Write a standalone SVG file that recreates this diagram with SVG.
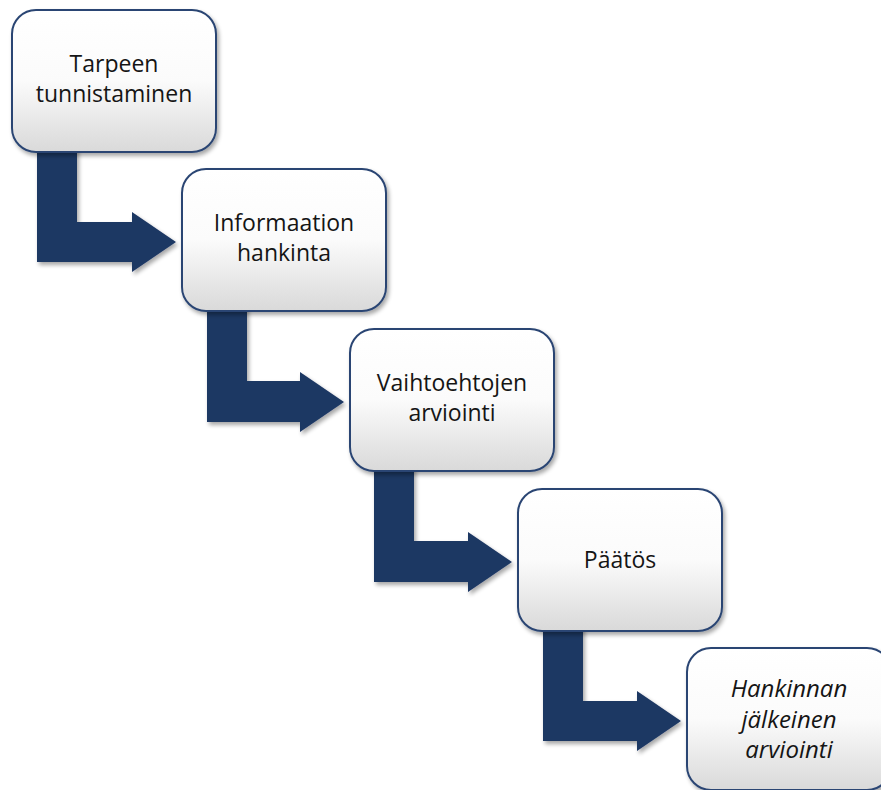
<svg xmlns="http://www.w3.org/2000/svg" width="881" height="790" viewBox="0 0 881 790">
  <defs>
    <linearGradient id="boxGrad" x1="0" y1="0" x2="0" y2="1">
      <stop offset="0" stop-color="#ffffff"/>
      <stop offset="0.5" stop-color="#fbfbfb"/>
      <stop offset="1" stop-color="#d9d9d9"/>
    </linearGradient>
    <filter id="shadow" x="-10%" y="-10%" width="130%" height="130%">
      <feGaussianBlur in="SourceAlpha" stdDeviation="2"/>
      <feOffset dx="2" dy="3" result="b"/>
      <feComponentTransfer><feFuncA type="linear" slope="0.35"/></feComponentTransfer>
      <feMerge><feMergeNode/><feMergeNode in="SourceGraphic"/></feMerge>
    </filter>
  </defs>
  <style>
    .box { fill: url(#boxGrad); stroke: #2a4573; stroke-width: 2; filter: url(#shadow); }
    .arrow { fill: #1f3864; filter: url(#shadow); }
    .lbl { font-family: "Open Sans", "Liberation Sans", sans-serif; font-size: 23px; fill: #151515; text-anchor: middle; }
    .it { font-style: italic; font-size: 24px; }
  </style>
  <rect width="881" height="790" fill="#ffffff"/>
  <g id="connectors">
    <path class="arrow" d="M37 140 H77 V222 H132 V212 L176 242 L132 272 V262 H37 Z"/>
    <path class="arrow" d="M207 300 H247 V381 H300 V372 L344 402 L300 432 V422 H207 Z"/>
    <path class="arrow" d="M374 460 H414 V541 H468 V532 L512 562 L468 592 V582 H374 Z"/>
    <path class="arrow" d="M543 620 H583 V701 H637 V691 L681 721 L637 751 V741 H543 Z"/>
  </g>
  <g id="node1">
    <rect class="box" x="12" y="10" width="204" height="142" rx="24"/>
    <text class="lbl" x="114" y="72">Tarpeen</text>
    <text class="lbl" x="114" y="102">tunnistaminen</text>
  </g>
  <g id="node2">
    <rect class="box" x="182" y="169" width="204" height="142" rx="24"/>
    <text class="lbl" x="284" y="231">Informaation</text>
    <text class="lbl" x="284" y="261">hankinta</text>
  </g>
  <g id="node3">
    <rect class="box" x="350" y="329" width="204" height="142" rx="24"/>
    <text class="lbl" x="452" y="391">Vaihtoehtojen</text>
    <text class="lbl" x="452" y="421">arviointi</text>
  </g>
  <g id="node4">
    <rect class="box" x="518" y="489" width="204" height="142" rx="24"/>
    <text class="lbl" x="620" y="568">Päätös</text>
  </g>
  <g id="node5">
    <rect class="box" x="687" y="648" width="204" height="142" rx="24"/>
    <text class="lbl it" x="789" y="697">Hankinnan</text>
    <text class="lbl it" x="789" y="728">jälkeinen</text>
    <text class="lbl it" x="789" y="758">arviointi</text>
  </g>
</svg>
